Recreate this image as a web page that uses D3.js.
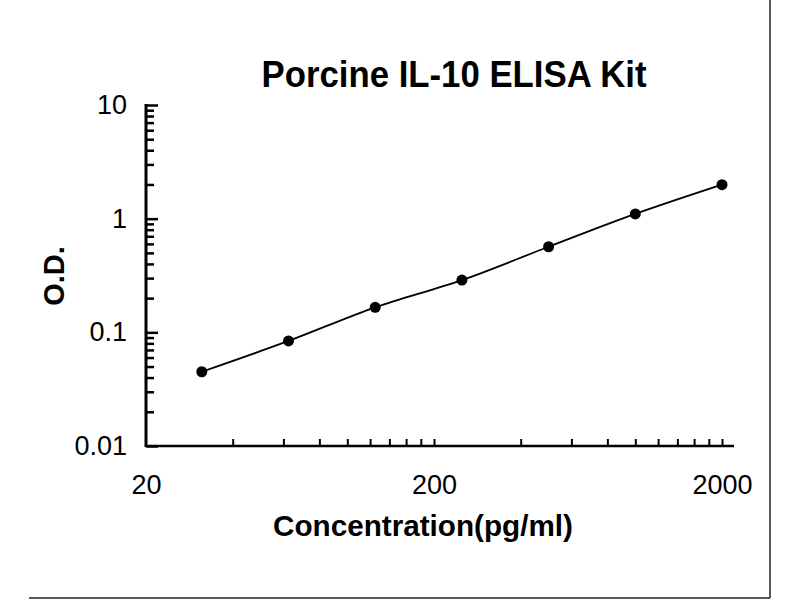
<!DOCTYPE html>
<html>
<head>
<meta charset="utf-8">
<script src="https://cdn.jsdelivr.net/npm/d3@7"></script>
<style>
  body { margin: 0; background: #fff; }
  svg { display: block; }
</style>
</head>
<body>
<div id="container"></div>
<script>
// standard curve values
const concentrations = [31.25, 62.5, 125, 250, 500, 1000, 2000];
const odValues = [0.045, 0.084, 0.166, 0.288, 0.566, 1.10, 1.99];

// axis labels
const xTickLabels = [20, 200, 2000];
const yTickLabels = [0.01, 0.1, 1, 10];

const titleText = "Porcine IL-10 ELISA Kit";
const xTitle = "Concentration(pg/ml)";
const yTitle = "O.D.";

const width = 800;
const height = 600;

const xScale = d3.scaleLog()
    .domain([20, 2000])
    .range([146, 722]);

const yScale = d3.scaleLog()
    .domain([0.01, 10])
    .range([446, 105]);

// minor ticks at 2..9 times each decade start (like excel does for log axes)
function minorTicks(starts) {
    const out = [];
    starts.slice(0, -1).forEach(s => {
        for (let k = 2; k <= 9; k++) out.push(s * k);
    });
    return out;
}

const svg = d3.select("#container")
    .append("svg")
    .attr("width", width)
    .attr("height", height);

//outer frame, only right and bottom edges are visible
svg.append("line")
    .attr("x1", 770).attr("x2", 770)
    .attr("y1", 0).attr("y2", 598)
    .attr("stroke", "#222").attr("stroke-width", 1.5);
svg.append("line")
    .attr("x1", 29).attr("x2", 770)
    .attr("y1", 598).attr("y2", 598)
    .attr("stroke", "#222").attr("stroke-width", 1.5);

//title
svg.append("text")
    .attr("x", 454)
    .attr("y", 87)
    .attr("text-anchor", "middle")
    .attr("font-family", "Liberation Sans, Arial, sans-serif")
    .attr("font-weight", "bold")
    .attr("font-size", 37)
    .attr("textLength", 385)
    .attr("lengthAdjust", "spacingAndGlyphs")
    .text(titleText);

//y axis: minor ticks, major ticks, labels
svg.append("g")
    .attr("transform", `translate(${xScale(20)},0)`)
    .call(d3.axisRight(yScale).tickValues(minorTicks(yTickLabels)).tickSize(8).tickFormat(""))
    .call(g => g.select(".domain").remove())
    .call(g => g.selectAll("line").attr("stroke", "#000").attr("stroke-width", 2.5));

svg.append("g")
    .attr("transform", `translate(${xScale(20)},0)`)
    .call(d3.axisRight(yScale).tickValues(yTickLabels).tickSize(12).tickFormat(""))
    .call(g => g.select(".domain").remove())
    .call(g => g.selectAll("line").attr("stroke", "#000").attr("stroke-width", 2.5));

svg.append("g")
    .attr("transform", `translate(${xScale(20)},0)`)
    .call(d3.axisLeft(yScale).tickValues(yTickLabels).tickSize(0).tickPadding(19)
        .tickFormat(d => String(d)))
    .call(g => g.select(".domain").remove())
    .call(g => g.selectAll("text")
        .attr("font-family", "Liberation Sans, Arial, sans-serif")
        .attr("font-size", 27)
        .attr("fill", "#000"));

svg.append("line")
    .attr("x1", xScale(20)).attr("x2", xScale(20))
    .attr("y1", yScale(10) - 1).attr("y2", yScale(0.01) + 1)
    .attr("stroke", "#000").attr("stroke-width", 3);

//x axis: ticks point up into the plot
svg.append("g")
    .attr("transform", `translate(0,${yScale(0.01)})`)
    .call(d3.axisTop(xScale).tickValues(minorTicks(xTickLabels).concat(xTickLabels.slice(1))).tickSize(7).tickFormat(""))
    .call(g => g.select(".domain").remove())
    .call(g => g.selectAll("line").attr("stroke", "#000").attr("stroke-width", 2));

svg.append("g")
    .attr("transform", `translate(0,${yScale(0.01)})`)
    .call(d3.axisBottom(xScale).tickValues(xTickLabels).tickSize(0).tickPadding(29)
        .tickFormat(d => String(d)))
    .call(g => g.select(".domain").remove())
    .call(g => g.selectAll("text")
        .attr("font-family", "Liberation Sans, Arial, sans-serif")
        .attr("font-size", 27)
        .attr("fill", "#000"));

svg.append("line")
    .attr("x1", xScale(20)).attr("x2", xScale(2000) + 12)
    .attr("y1", yScale(0.01)).attr("y2", yScale(0.01))
    .attr("stroke", "#000").attr("stroke-width", 2.5);

//axis titles
svg.append("text")
    .attr("x", 423)
    .attr("y", 536)
    .attr("text-anchor", "middle")
    .attr("font-family", "Liberation Sans, Arial, sans-serif")
    .attr("font-weight", "bold")
    .attr("font-size", 30)
    .attr("textLength", 300)
    .attr("lengthAdjust", "spacingAndGlyphs")
    .text(xTitle);

svg.append("text")
    .attr("transform", "translate(64,276) rotate(-90)")
    .attr("text-anchor", "middle")
    .attr("font-family", "Liberation Sans, Arial, sans-serif")
    .attr("font-weight", "bold")
    .attr("font-size", 29)
    .text(yTitle);

//smoothed curve through the standards
const points = concentrations.map((c, i) => [xScale(c), yScale(odValues[i])]);

svg.append("path")
    .datum(points)
    .attr("d", d3.line().curve(d3.curveCatmullRom.alpha(0.5)))
    .attr("fill", "none")
    .attr("stroke", "#000")
    .attr("stroke-width", 1.8);

svg.selectAll("circle.pt")
    .data(points)
    .join("circle")
    .attr("class", "pt")
    .attr("cx", d => d[0])
    .attr("cy", d => d[1])
    .attr("r", 5.5)
    .attr("fill", "#000");
</script>
</body>
</html>
